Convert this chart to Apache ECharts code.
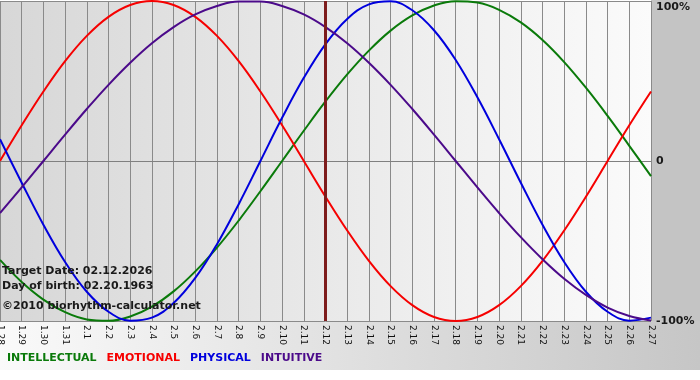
<!DOCTYPE html>
<html>
<head>
<meta charset="utf-8">
<script src="https://cdn.jsdelivr.net/npm/echarts@6/dist/echarts.min.js"></script>
<style>
  html, body { margin: 0; padding: 0; background: #fff; }
  #chart { width: 700px; height: 380px; }
</style>
</head>
<body>
<div id="chart"></div>
<script>
var days = ['1.28', '1.29', '1.30', '1.31', '2.1', '2.2', '2.3', '2.4', '2.5', '2.6',
  '2.7', '2.8', '2.9', '2.10', '2.11', '2.12', '2.13', '2.14', '2.15', '2.16',
  '2.17', '2.18', '2.19', '2.20', '2.21', '2.22', '2.23', '2.24', '2.25', '2.26', '2.27'];

// values in percent, one per day
var intellectual = [-61.8, -75.6, -86.6, -94.5, -99.0, -99.9, -97.2, -91.0, -81.5, -69.0,
  -54.1, -37.2, -18.9, 0, 18.9, 37.2, 54.1, 69.0, 81.5, 91.0,
  97.2, 99.9, 99.0, 94.5, 86.6, 75.6, 61.8, 45.8, 28.2, 9.5, -9.5];
var emotional = [0, 22.3, 43.4, 62.4, 78.2, 90.1, 97.5, 100, 97.5, 90.1,
  78.2, 62.4, 43.4, 22.3, 0, -22.3, -43.4, -62.4, -78.2, -90.1,
  -97.5, -100, -97.5, -90.1, -78.2, -62.4, -43.4, -22.3, 0, 22.3, 43.4];
var physical = [13.6, -13.6, -39.8, -63.1, -81.7, -94.2, -99.8, -97.9, -88.8, -73.1,
  -52.0, -27.0, 0, 27.0, 52.0, 73.1, 88.8, 97.9, 99.8, 94.2,
  81.7, 63.1, 39.8, 13.6, -13.6, -39.8, -63.1, -81.7, -94.2, -99.8, -97.9];
var intuitive = [-32.5, -16.5, 0, 16.5, 32.5, 47.6, 61.4, 73.6, 83.7, 91.6,
  96.9, 99.7, 99.7, 96.9, 91.6, 83.7, 73.6, 61.4, 47.6, 32.5,
  16.5, 0, -16.5, -32.5, -47.6, -61.4, -73.6, -83.7, -91.6, -96.9, -99.7];

var targetDay = '2.12';
var infoLines = ['Target Date: 02.12.2026', 'Day of birth: 02.20.1963', '\u00a92010 biorhythm-calculator.net'];

var colors = {
  INTELLECTUAL: '#0a7a0a',
  EMOTIONAL: '#f60000',
  PHYSICAL: '#0000dd',
  INTUITIVE: '#4b0a8a'
};

var myChart = echarts.init(document.getElementById('chart'));

var font = 'DejaVu Sans';

function makeSeries(name, values) {
  return {
    name: name,
    type: 'line',
    data: values,
    smooth: 0.4,
    symbol: 'none',
    lineStyle: { width: 2, color: colors[name] },
    itemStyle: { color: colors[name] }
  };
}

var series = [
  makeSeries('INTELLECTUAL', intellectual),
  makeSeries('EMOTIONAL', emotional),
  makeSeries('PHYSICAL', physical),
  makeSeries('INTUITIVE', intuitive)
];
series[3].markLine = {
  silent: true,
  symbol: 'none',
  label: { show: false },
  lineStyle: { color: '#7d1c1c', width: 3, type: 'solid' },
  data: [{ xAxis: targetDay }]
};

var option = {
  animation: false,
  backgroundColor: '#ffffff',
  grid: {
    left: 0, top: 1, right: 49, bottom: 59,
    outerBoundsMode: 'none',
    containLabel: false,
    show: true,
    borderWidth: 0,
    backgroundColor: new echarts.graphic.LinearGradient(0, 0, 1, 0, [
      { offset: 0, color: '#d7d7d7' },
      { offset: 1, color: '#fbfbfb' }
    ])
  },
  legend: {
    left: -3, top: 348,
    icon: 'rect',
    itemWidth: 0, itemHeight: 0,
    itemGap: 5,
    selectedMode: false,
    textStyle: { fontFamily: font, fontWeight: 'bold', fontSize: 11 },
    data: Object.keys(colors).map(function (k) {
      return { name: k, textStyle: { color: colors[k] } };
    })
  },
  xAxis: {
    type: 'category',
    data: days,
    boundaryGap: false,
    axisLine: { show: true, lineStyle: { color: '#808080' } },
    axisTick: { show: false },
    splitLine: { show: true, lineStyle: { color: '#8a8a8a', width: 1 } },
    axisLabel: {
      interval: 0, rotate: -90, margin: 4,
      fontFamily: font, fontSize: 9, color: '#111'
    }
  },
  yAxis: {
    type: 'value',
    position: 'right',
    min: -100, max: 100, interval: 100,
    axisLine: { show: false },
    axisTick: { show: false },
    splitLine: { show: true, lineStyle: { color: '#8a8a8a', width: 1 } },
    axisLabel: {
      margin: 5,
      fontFamily: font, fontWeight: 'bold', fontSize: 11, color: '#1a1a1a',
      formatter: function (v) {
        if (v === 100) return '{top|100%}';
        return v === 0 ? '0' : v + '%';
      },
      rich: {
        top: { fontFamily: font, fontWeight: 'bold', fontSize: 11, color: '#1a1a1a', padding: [12, 0, 0, 0] }
      }
    }
  },
  graphic: [
    {
      type: 'rect', z: -10, silent: true,
      shape: { x: 651, y: 0, width: 49, height: 321 },
      style: { fill: '#c4c4c4' }
    },
    {
      type: 'rect', z: -10, silent: true,
      shape: { x: 0, y: 321, width: 700, height: 49 },
      style: {
        fill: new echarts.graphic.LinearGradient(0, 0, 1, 0, [
          { offset: 0, color: '#fafafa' },
          { offset: 1, color: '#c6c6c6' }
        ])
      }
    }
  ].concat(infoLines.map(function (t, i) {
    return {
      type: 'text', z: 100, silent: true,
      left: 2, top: [266, 281, 301][i],
      style: { text: t, fill: '#1a1a1a', font: 'bold 11px "DejaVu Sans"' }
    };
  })),
  series: series
};

myChart.setOption(option);
</script>
</body>
</html>
